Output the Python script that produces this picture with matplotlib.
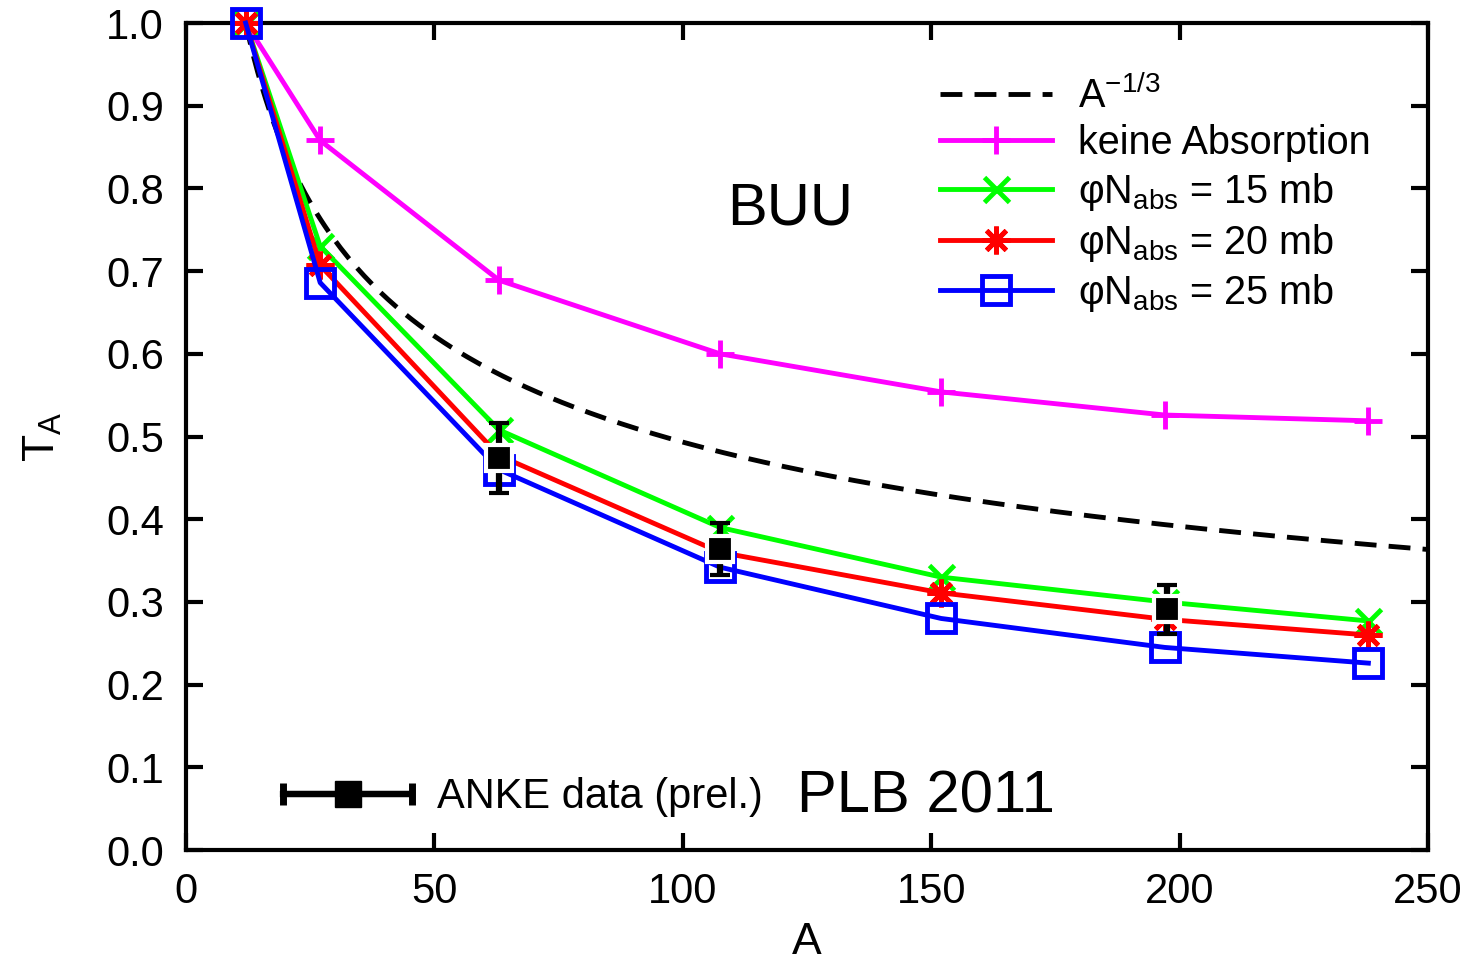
import matplotlib
matplotlib.use("Agg")
import matplotlib.pyplot as plt
from matplotlib.collections import LineCollection
from matplotlib.container import ErrorbarContainer
from matplotlib.legend_handler import HandlerErrorbar
from matplotlib.lines import Line2D
import numpy as np

plt.rcParams["font.family"] = ["Liberation Sans", "DejaVu Sans"]
plt.rcParams["mathtext.fontset"] = "custom"
plt.rcParams["mathtext.rm"] = "Liberation Sans"
plt.rcParams["mathtext.it"] = "Liberation Sans"

# BUU calculations
mass_numbers = [12, 27, 63, 107.5, 152, 197, 238]
no_absorption = [1.0, 0.858, 0.689, 0.600, 0.554, 0.526, 0.519]
sigma_15mb = [1.0, 0.730, 0.508, 0.390, 0.330, 0.300, 0.277]
sigma_20mb = [1.0, 0.707, 0.477, 0.360, 0.311, 0.279, 0.260]
sigma_25mb = [1.0, 0.686, 0.460, 0.342, 0.280, 0.245, 0.226]

# ANKE data (prel.)
anke_a = [63, 107.5, 197.5]
anke_t = [0.474, 0.364, 0.291]
anke_err = [0.042, 0.032, 0.030]

# A^-1/3 curve, normalised to carbon
curve_a = np.linspace(12, 250, 300)
curve_t = (12.0 / curve_a) ** (1.0 / 3.0)

fig = plt.figure(figsize=(14.72, 9.63), dpi=100)
ax = fig.add_axes([0.1264, 0.1173, 0.8437, 0.8588])

lw = 3.5
ax.plot(curve_a, curve_t, color="black", linestyle=(0, (4.5, 2.5)), linewidth=lw,
        label=r"A$^{\mathregular{-1/3}}$", zorder=2)
ax.plot(mass_numbers, no_absorption, color="#ff00ff", linewidth=lw, marker="+",
        markersize=20, markeredgewidth=3.5, label="keine Absorption", clip_on=False, zorder=3)
ax.plot(mass_numbers, sigma_15mb, color="#00ff00", linewidth=lw, marker="x",
        markersize=18, markeredgewidth=3.5, label=r"φN$_{\mathregular{abs}}$ = 15 mb",
        clip_on=False, zorder=3)
ax.plot(mass_numbers, sigma_20mb, color="#ff0000", linewidth=lw, marker=(8, 2, 0),
        markersize=20, markeredgewidth=3.5, label=r"φN$_{\mathregular{abs}}$ = 20 mb",
        clip_on=False, zorder=3)
ax.plot(mass_numbers, sigma_25mb, color="#0000ff", linewidth=lw, marker="s",
        markersize=20, markeredgewidth=3.5, markerfacecolor="none",
        label=r"φN$_{\mathregular{abs}}$ = 25 mb", clip_on=False, zorder=3)

ax.errorbar(anke_a, anke_t, yerr=anke_err, fmt="s", color="black",
            markersize=19, markeredgecolor="white", markeredgewidth=3,
            elinewidth=4.5, capsize=7, capthick=5, zorder=5)

# key sample for the data: horizontal bar with caps
key_line = Line2D([], [], color="black", marker="s", markersize=19, linewidth=4.5)
key_cap = Line2D([], [], color="black", marker="|", markersize=16, markeredgewidth=5)
key_bars = LineCollection([], colors="black", linewidths=4.5)
anke_key = ErrorbarContainer((key_line, (key_cap, key_cap), (key_bars,)),
                             has_xerr=True, has_yerr=False)

ax.set_xlim(0, 250)
ax.set_ylim(0, 1.0)
ax.set_xticks(np.arange(0, 251, 50))
ax.set_yticks(np.arange(0, 1.01, 0.1))
ax.set_yticklabels([f"{v:.1f}" for v in np.arange(0, 1.01, 0.1)])
ax.tick_params(direction="in", length=12, width=3, labelsize=30,
               top=True, right=True, pad=16)
for spine in ax.spines.values():
    spine.set_linewidth(3)

ax.set_xlabel("A", fontsize=32, labelpad=7)
ax.set_ylabel(r"T$_{\mathregular{A}}$", fontsize=32, labelpad=30)

ax.text(0.486, 0.775, "BUU", transform=ax.transAxes, fontsize=43,
        ha="center", va="center")

leg = ax.legend(loc="upper left", bbox_to_anchor=(0.607, 0.937), fontsize=28.5,
                frameon=False, handlelength=2.83, handletextpad=0.66,
                labelspacing=0.22, borderaxespad=0.0, borderpad=0.0)
ax.add_artist(leg)

ax.legend([anke_key], ["ANKE data (prel.)"], loc="center left",
          bbox_to_anchor=(0.078, 0.064), frameon=False,
          prop={"family": ["Liberation Sans Narrow", "Liberation Sans"], "size": 30},
          handlelength=3.1, handletextpad=0.6, borderpad=0.0, borderaxespad=0.0,
          handler_map={ErrorbarContainer: HandlerErrorbar(xerr_size=1.55)})
ax.text(0.492, 0.064, "PLB 2011", transform=ax.transAxes, fontsize=43,
        ha="left", va="center")

fig.savefig("out.png", dpi=100)
